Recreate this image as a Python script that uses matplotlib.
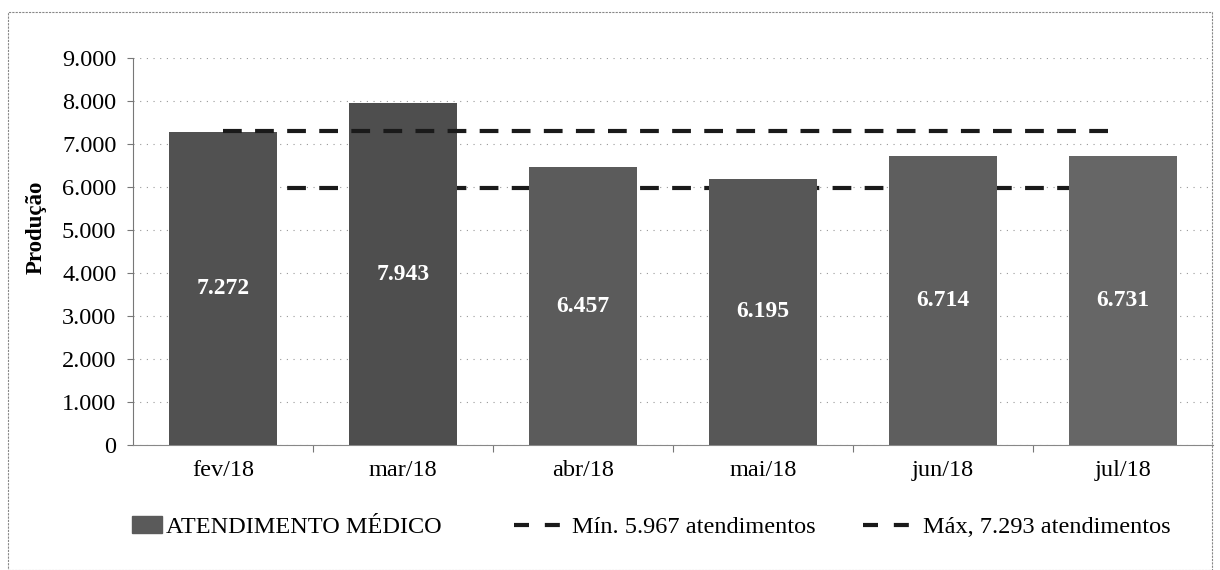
import matplotlib
matplotlib.use("Agg")
import matplotlib.pyplot as plt
from matplotlib.patches import Rectangle
from matplotlib.lines import Line2D

categories = ["fev/18", "mar/18", "abr/18", "mai/18", "jun/18", "jul/18"]
values = [7272, 7943, 6457, 6195, 6714, 6731]
min_value = 5967
max_value = 7293
yticks = [0, 1000, 2000, 3000, 4000, 5000, 6000, 7000, 8000, 9000]
bar_label = "ATENDIMENTO MÉDICO"
min_label = "Mín. 5.967 atendimentos"
max_label = "Máx, 7.293 atendimentos"

def fmt(v):
    return f"{v:,}".replace(",", ".")

plt.rcParams["font.family"] = ["Liberation Serif", "DejaVu Serif"]

W, H = 1220, 570
fig = plt.figure(figsize=(W / 100, H / 100), dpi=100)
ax = fig.add_axes([133 / W, 1 - 445 / H, 1080 / W, 387 / H])

x = list(range(len(categories)))
bar_colors = ["#515151", "#4e4e4e", "#5b5b5b", "#575757", "#5e5e5e", "#666666"]
ax.bar(x, values, width=0.6, color=bar_colors, zorder=3, label=bar_label)

ax.plot([x[0], x[-1] - 0.05], [min_value, min_value], color="#1a1a1a", lw=3,
        dashes=(4.5, 3.2), zorder=2, solid_capstyle="butt")
ax.plot([x[0], x[-1] - 0.05], [max_value, max_value], color="#1a1a1a", lw=3,
        dashes=(4.5, 3.2), zorder=4, solid_capstyle="butt")

for xi, v in zip(x, values):
    ax.text(xi, v / 2, fmt(v), ha="center", va="center", color="white",
            fontsize=17, fontweight="bold", zorder=5)

ax.set_xlim(-0.5, len(categories) - 0.5)
ax.set_ylim(0, 9000)
ax.set_yticks(yticks)
ax.set_yticklabels([fmt(t) for t in yticks], fontsize=17.5)
ax.set_xticks(x)
ax.set_xticklabels(categories, fontsize=17.5)
ax.tick_params(axis="x", length=0, pad=11)
ax.tick_params(axis="y", length=4, width=0.8, color="#777777", pad=8)
ax.set_xticks([i + 0.5 for i in x[:-1]], minor=True)
ax.tick_params(axis="x", which="minor", length=5, width=0.8, color="#777777")

ax.yaxis.grid(True, linestyle=(0, (1, 5)), color="#999999", lw=0.8, zorder=0)
ax.set_axisbelow(True)
for s in ["top", "right"]:
    ax.spines[s].set_visible(False)
ax.spines["left"].set_color("#777777")
ax.spines["left"].set_linewidth(0.8)
ax.spines["left"].set_linestyle((0, (2, 1)))
ax.spines["bottom"].set_color("#888888")
ax.spines["bottom"].set_linewidth(0.8)
ax.spines["bottom"].set_linestyle((0, (2, 1)))

fig.text(36 / W, 1 - 227 / H, "Produção", rotation=90, ha="center",
         va="center", fontsize=16.5, fontweight="bold")

legend_items = [
    (Rectangle((0, 0), 1, 1, color="#5a5a5a"), bar_label, 132, 1.25, 0.15),
    (Line2D([0], [0], color="#1a1a1a", lw=3, dashes=(3.6, 3.8)), min_label, 514, 1.9, 0.5),
    (Line2D([0], [0], color="#1a1a1a", lw=3, dashes=(3.6, 3.8)), max_label, 863, 1.95, 0.5),
]
for handle, label, left, hl, pad in legend_items:
    fig.legend([handle], [label], loc="center left",
               bbox_to_anchor=(left / W, 1 - 527 / H), frameon=False,
               fontsize=17.5, handlelength=hl, handletextpad=pad,
               borderpad=0, borderaxespad=0)

border = Rectangle((8 / W, 0.0), (1212 - 8) / W, 1 - 12 / H,
                   transform=fig.transFigure, fill=False, ec="#888888",
                   lw=0.8, ls=(0, (2, 1)))
fig.patches.append(border)

fig.savefig("out.png", dpi=100)
